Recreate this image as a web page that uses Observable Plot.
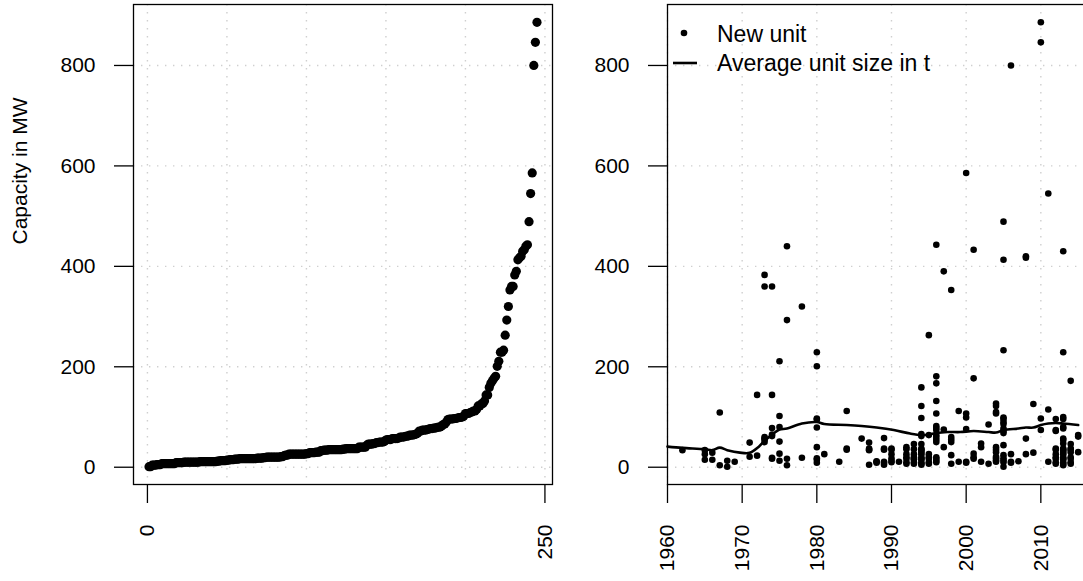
<!DOCTYPE html>
<html>
<head>
<meta charset="utf-8">
<script src="https://cdn.jsdelivr.net/npm/d3@7"></script>
<script src="https://cdn.jsdelivr.net/npm/@observablehq/plot@0.6"></script>
<style>
  html, body { margin: 0; padding: 0; background: #fff; overflow: hidden; }
  #wrap { position: relative; width: 1083px; height: 581px; overflow: hidden; background: #fff;
          font-family: "Liberation Sans", Arial, Helvetica, sans-serif; }
  #left, #right { position: absolute; top: 0; }
  #left { left: 0; width: 560px; }
  #right { left: 560px; width: 555px; }
  #wrap svg { max-width: none !important; }
  #legend { position: absolute; left: 0; top: 0; }
</style>
</head>
<body>
<div id="wrap">
  <div id="left"></div>
  <div id="right"></div>
  <svg id="legend" width="1083" height="581"></svg>
</div>
<script>
// ---- data ----
const unitYears = [1962, 1965, 1966, 1967, 1968, 1969, 1971, 1972, 1973, 1974, 1975, 1976, 1978, 1980,
  1981, 1983, 1984, 1986, 1987, 1988, 1989, 1990, 1991, 1992, 1993, 1994, 1995, 1996, 1997, 1998, 1999,
  2000, 2001, 2002, 2003, 2004, 2005, 2006, 2007, 2008, 2009, 2010, 2011, 2012, 2013, 2014, 2015];
// capacities (MW) of the new units commissioned in each of the years above
const unitCapacities = [
  [34],
  [34, 26, 15],
  [29, 15],
  [109, 4],
  [13, 1],
  [11],
  [49, 21],
  [144, 23],
  [383, 360, 60, 55, 50, 57],
  [360, 144, 78, 65, 19, 17, 62],
  [211, 102, 80, 51, 27, 13],
  [440, 293, 17, 4],
  [320, 19],
  [229, 201, 97, 79, 40, 15, 9, 18, 95],
  [26],
  [11],
  [112, 37, 35],
  [57],
  [49, 37, 34, 5, 35],
  [12, 11, 9],
  [58, 37, 11, 5, 9, 35],
  [37, 26, 13, 10, 18, 35],
  [11],
  [40, 26, 17, 7, 10, 20, 36],
  [46, 26, 17, 7, 10, 20, 16, 36],
  [159, 122, 98, 66, 46, 37, 26, 17, 7, 5, 10, 20, 16, 29, 35, 33, 62],
  [263, 64, 26, 17, 7, 10, 20],
  [443, 181, 167, 132, 107, 82, 74, 64, 50, 13, 10, 17, 20, 60, 55, 78],
  [390, 75, 40],
  [353, 60, 50, 24, 7, 55],
  [112, 11],
  [586, 107, 99, 76, 11, 9],
  [433, 177, 27, 17, 20],
  [47, 40, 11],
  [85, 7],
  [127, 122, 107, 40, 30, 21, 14, 11, 18, 35, 110],
  [489, 413, 233, 99, 90, 77, 68, 44, 24, 14, 1, 10, 18, 72, 86, 96],
  [800, 26, 11, 9],
  [12],
  [420, 417, 57, 26],
  [126, 29],
  [886, 846, 97, 74],
  [545, 115, 11],
  [96, 74, 37, 26, 17, 7, 10, 20, 35, 72],
  [430, 229, 96, 77, 54, 47, 37, 26, 17, 7, 4, 10, 20, 16, 29, 35, 33, 57, 80, 100],
  [172, 46, 37, 30, 17, 7, 10, 20, 35],
  [64, 30, 61]
];
// average unit size curve
const avgYear = [1960, 1962, 1965, 1966, 1967, 1968, 1969.7, 1971, 1972.2, 1973.1, 1974.2, 1975, 1976, 1978,
  1980, 1981, 1984, 1986, 1988, 1990.3, 1992.5, 1994, 1995, 1996, 1997.5, 1999.2, 2001, 2003, 2004, 2005,
  2007, 2008, 2009, 2010, 2011, 2012, 2013, 2015];
const avgSize = [41, 38.5, 36, 34, 39, 34, 29, 28.6, 40.5, 54, 67, 75, 77, 87, 90, 86, 84, 82, 79, 74, 67,
  64, 65, 68, 70, 70, 72, 70, 69, 74, 77, 79, 79, 84, 87, 88, 87, 84];

// tick labels
const yTicks = [0, 200, 400, 600, 800];
const leftXTicks = [0, 250];
const leftGridX = [0, 50, 100, 150, 200, 250];
const rightXTicks = [1960, 1970, 1980, 1990, 2000, 2010];
const rightGridX = [1960, 1970, 1980, 1990, 2000, 2010, 2020];
const rightXDomain = [1960, 2020];
const yTitle = "Capacity in MW";
const legendLabels = ["New unit", "Average unit size in t"];

// ---- build tables ----
const units = unitYears.flatMap((y, i) => unitCapacities[i].map(c => ({year: y, capacity: c})));
const sortedCaps = units.map(d => d.capacity).sort((a, b) => a - b);
const ranked = sortedCaps.map((c, i) => ({rank: i + 1, capacity: c}));
const avg = avgYear.map((y, i) => ({year: y, size: avgSize[i]}));

const n = ranked.length;
const xPad = 0.04 * (n - 1);
const yMin = d3.min(sortedCaps), yMax = d3.max(sortedCaps);
const yPad = 0.04 * (yMax - yMin);
const yDomain = [yMin - yPad, yMax + yPad];

const FONT = '"Liberation Sans", Arial, Helvetica, sans-serif';
const common = {
  height: 581, marginTop: 4, marginBottom: 97,
  style: {fontFamily: FONT, fontSize: "21px", color: "black", background: "transparent",
          overflow: "visible", maxWidth: "none"}
};
const gridStyle = {stroke: "#cfcfcf", strokeOpacity: 1, strokeWidth: 1.4, strokeDasharray: "1.4,6.6"};
const axisStyle = {tickSize: 19, strokeWidth: 1.3, label: null, fontSize: 21};

const left = Plot.plot({
  ...common,
  width: 560, marginLeft: 133, marginRight: 8,
  x: {domain: [1 - xPad, n + xPad]},
  y: {domain: yDomain},
  marks: [
    Plot.gridX(leftGridX, gridStyle),
    Plot.gridY(yTicks, gridStyle),
    Plot.dot(ranked, {x: "rank", y: "capacity", r: 4.6, fill: "black"}),
    Plot.frame({stroke: "black", strokeWidth: 1.3}),
    Plot.axisY(yTicks, {...axisStyle, tickPadding: 19}),
    Plot.axisX(leftXTicks, {...axisStyle, tickPadding: 21, tickRotate: -90, tickFormat: "d"}),
    Plot.text([yTitle], {frameAnchor: "left", dx: -113, rotate: -90, fontSize: 21})
  ]
});
document.getElementById("left").append(left);

const right = Plot.plot({
  ...common,
  width: 555, marginLeft: 107, marginRight: 0,
  x: {domain: rightXDomain},
  y: {domain: yDomain},
  marks: [
    Plot.gridX(rightGridX, gridStyle),
    Plot.gridY(yTicks, gridStyle),
    Plot.dot(units, {x: "year", y: "capacity", r: 3.3, fill: "black"}),
    Plot.line(avg, {x: "year", y: "size", stroke: "black", strokeWidth: 2.6, curve: "catmull-rom"}),
    Plot.frame({stroke: "black", strokeWidth: 1.3}),
    Plot.axisY(yTicks, {...axisStyle, tickPadding: 19}),
    Plot.axisX(rightXTicks, {...axisStyle, tickPadding: 21, tickRotate: -90, tickFormat: "d"})
  ]
});
document.getElementById("right").append(right);

// ---- legend ----
const lg = d3.select("#legend");
lg.append("circle").attr("cx", 684).attr("cy", 33).attr("r", 3.3).attr("fill", "black");
lg.append("line").attr("x1", 673).attr("x2", 697).attr("y1", 63).attr("y2", 63)
  .attr("stroke", "black").attr("stroke-width", 2.6);
lg.selectAll("text.lab").data(legendLabels).join("text")
  .attr("class", "lab")
  .attr("x", 717).attr("y", (d, i) => i === 0 ? 41.5 : 71)
  .attr("font-family", FONT).attr("font-size", 23).attr("fill", "black")
  .text(d => d);
</script>
</body>
</html>
